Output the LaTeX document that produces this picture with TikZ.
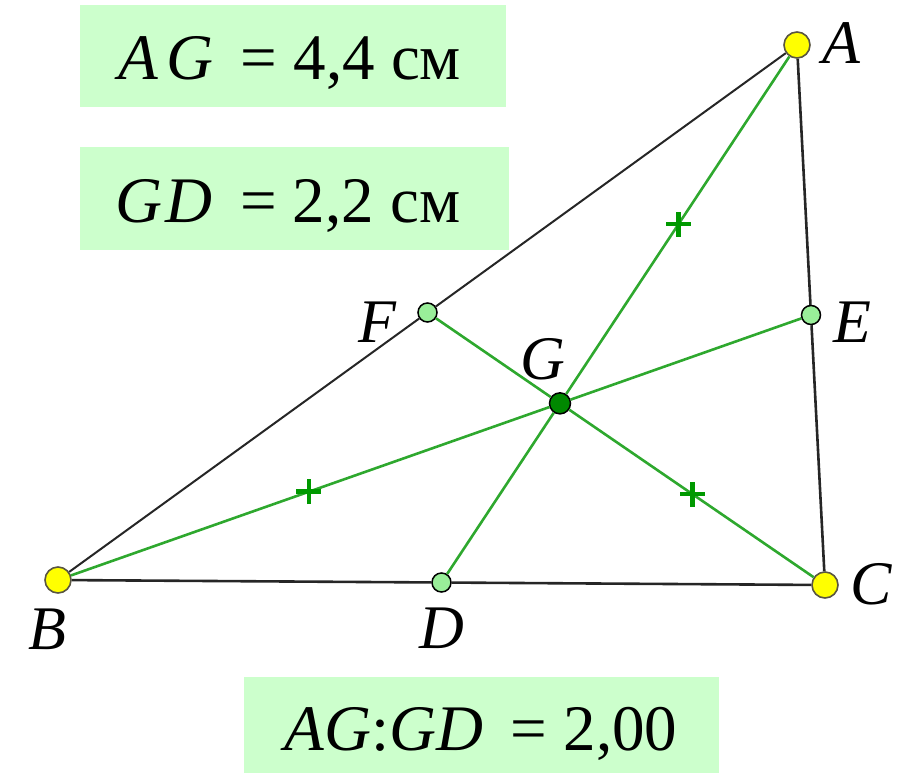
\documentclass[tikz,border=0pt]{standalone}
\usepackage{fontspec}
\setmainfont{Liberation Serif}
\usetikzlibrary{calc}
\definecolor{boxgreen}{HTML}{CCFFCC}
\definecolor{medgreen}{HTML}{2EA82E}
\definecolor{tickgreen}{HTML}{009900}
\definecolor{ptyellow}{HTML}{FFFF00}
\definecolor{ptlight}{HTML}{99EE99}
\definecolor{ptdark}{HTML}{008800}
\begin{document}
\begin{tikzpicture}[x=1pt,y=-1pt,
  vert/.style={circle, draw=black!75!yellow, fill=ptyellow, line width=1.6pt, minimum size=26pt, inner sep=0pt},
  midpt/.style={circle, draw=black, fill=ptlight, line width=1.5pt, minimum size=19pt, inner sep=0pt},
  cent/.style={circle, draw=black, fill=ptdark, line width=1.5pt, minimum size=21pt, inner sep=0pt},
  sidethin/.style={line width=2pt, black!85},
  sidethick/.style={line width=2.6pt, black!85},
  median/.style={line width=2.6pt, medgreen},
  tickmark/.style={line width=4.5pt, tickgreen},
  lbl/.style={inner sep=0pt, font=\fontsize{62}{70}\selectfont\itshape},
  infobox/.style={fill=boxgreen, inner sep=0pt},
  infotext/.style={inner sep=0pt, anchor=base, font=\fontsize{65}{72}\selectfont}]
\useasboundingbox (0,0) rectangle (905,774);

% info boxes
\node[infobox, minimum width=426pt, minimum height=102pt] (box1) at (293,56) {};
\node[infobox, minimum width=429pt, minimum height=103pt] (box2) at (294.5,198.5) {};
\node[infobox, minimum width=475pt, minimum height=96pt] (box3) at (481.5,725) {};
\node[infotext] (txt1) at (290,79) {\textit{A}\hspace{0.12em}\textit{G}\hspace{0.42em}=\hspace{0.25em}4,4\hspace{0.25em}см};
\node[infotext] (txt2) at (288,222) {\textit{G}\hspace{0.05em}\textit{D}\hspace{0.42em}=\hspace{0.25em}2,2\hspace{0.25em}см};
\node[infotext] (txt3) at (481,750) {\textit{AG}:\textit{GD}\hspace{0.42em}=\hspace{0.25em}2,00};

% points
\node[vert] (A) at (797,45) {};
\node[vert] (B) at (58,580) {};
\node[vert] (C) at (825,585) {};
\node[midpt] (D) at ($(B)!0.5!(C)$) {};
\node[midpt] (E) at ($(A)!0.5!(C)$) {};
\node[midpt] (F) at ($(A)!0.5!(B)$) {};
\node[cent] (G) at ($(A)!0.6667!(D)$) {};

% sides
\draw[sidethin] (A) -- (F);
\draw[sidethin] (F) -- (B);
\draw[sidethick] (B) -- (D);
\draw[sidethick] (D) -- (C);
\draw[sidethick] (A) -- (E);
\draw[sidethick] (E) -- (C);

% medians
\draw[median] (A) -- (G);
\draw[median] (G) -- (D);
\draw[median] (B) -- (G);
\draw[median] (G) -- (E);
\draw[median] (C) -- (G);
\draw[median] (G) -- (F);

% tick marks
\coordinate (m1) at ($(A)!0.5!(G)$);
\coordinate (m2) at ($(B)!0.5!(G)$);
\coordinate (m3) at ($(C)!0.5!(G)$);
\foreach \m in {m1,m2,m3}{
  \draw[tickmark] ([xshift=-12.5pt]\m) -- ([xshift=12.5pt]\m);
  \draw[tickmark] ([yshift=-12.5pt]\m) -- ([yshift=12.5pt]\m);
}

% labels
\node[lbl] (lA) at (841,43) {A};
\node[lbl] (lB) at (47,629) {B};
\node[lbl] (lC) at (871,584) {C};
\node[lbl] (lD) at (442,628) {D};
\node[lbl] (lE) at (852,322) {E};
\node[lbl] (lF) at (377,322) {F};
\node[lbl] (lG) at (543,359) {G};
\end{tikzpicture}
\end{document}
